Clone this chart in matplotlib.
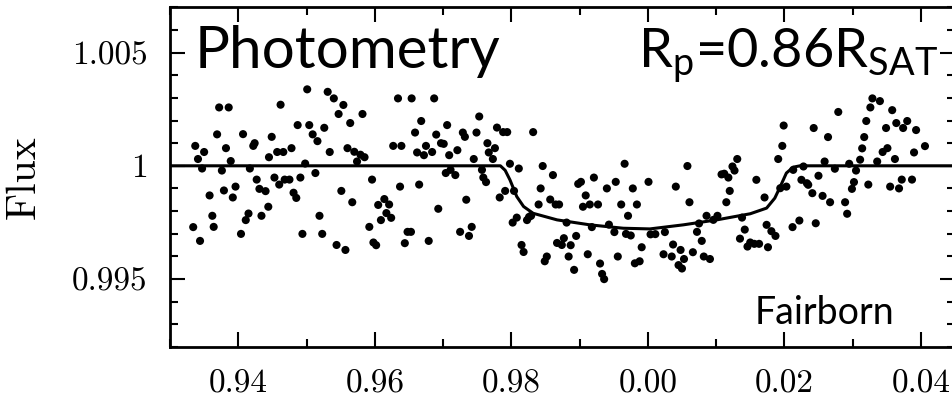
import matplotlib
matplotlib.use("Agg")
import matplotlib.pyplot as plt
from matplotlib.ticker import MultipleLocator

plt.rcParams['font.family'] = ['cmr10', 'DejaVu Serif']
plt.rcParams['axes.formatter.use_mathtext'] = True
plt.rcParams['mathtext.fontset'] = 'custom'
plt.rcParams['mathtext.rm'] = 'Lato'

# measured photometry (orbital phase, continuous across 1.0)
phase_a = [0.9337, 0.9341, 0.9350, 0.9347, 0.9334, 0.9344, 0.9358, 0.9362, 0.9364, 0.9369,
           0.9372, 0.9386, 0.9382, 0.9389, 0.9376, 0.9379, 0.9392, 0.9396, 0.9407, 0.9404,
           0.9411, 0.9415, 0.9417, 0.9422, 0.9424, 0.9427, 0.9431, 0.9440, 0.9434, 0.9444,
           0.9445, 0.9449, 0.9457, 0.9466, 0.9453, 0.9460, 0.9462, 0.9468, 0.9475, 0.9478,
           0.9481, 0.9485, 0.9487, 0.9491, 0.9494, 0.9498, 0.9501, 0.9504, 0.9509, 0.9513,
           0.9516, 0.9519, 0.9523, 0.9526, 0.9531, 0.9534]
flux_a = [1.00088, 1.00030, 1.00061, 0.99988, 0.99729, 0.99668, 0.99869, 0.99779, 0.99730, 1.00139,
          1.00258, 1.00258, 1.00078, 1.00021, 0.99979, 0.99891, 0.99860, 0.99908, 1.00140, 0.99699,
          0.99760, 0.99789, 0.99988, 1.00088, 1.00100, 0.99939, 0.99898, 0.99888, 0.99779, 0.99819,
          1.00038, 1.00128, 1.00061, 1.00061, 0.99948, 0.99917, 1.00270, 0.99939, 0.99939, 1.00078,
          0.99881, 0.99858, 1.00180, 0.99948, 0.99699, 1.00010, 1.00338, 1.00180, 1.00139, 0.99968,
          1.00109, 0.99779, 0.99699, 1.00168, 1.00327, 1.00061]

phase_b = [0.9540, 0.9554, 0.9547, 0.9564, 0.9582, 0.9560, 0.9570, 0.9579, 0.9585, 0.9574,
           0.9596, 0.9551, 0.9567, 0.9544, 0.9557, 0.9592, 0.9598, 0.9602, 0.9605, 0.9614,
           0.9621, 0.9617, 0.9624, 0.9609, 0.9634, 0.9654, 0.9687, 0.9627, 0.9639, 0.9637,
           0.9668, 0.9659, 0.9662, 0.9672, 0.9675, 0.9684, 0.9690, 0.9697, 0.9701, 0.9706,
           0.9709, 0.9721, 0.9729, 0.9732, 0.9665, 0.9704, 0.9711, 0.9718, 0.9693, 0.9648,
           0.9653, 0.9644, 0.9679, 0.9725, 0.9738, 0.9742, 0.9734, 0.9749, 0.9753, 0.9745,
           0.9765, 0.9767, 0.9757, 0.9759, 0.9763]
flux_b = [1.00298, 1.00269, 1.00229, 1.00189, 1.00229, 1.00078, 1.00062, 1.00049, 1.00038, 1.00019,
          0.99939, 0.99889, 0.99839, 0.99650, 0.99628, 0.99730, 0.99661, 0.99649, 0.99827, 0.99853,
          0.99829, 0.99791, 0.99770, 0.99760, 1.00298, 1.00298, 1.00298, 1.00088, 1.00088, 0.99908,
          1.00198, 1.00147, 1.00059, 1.00047, 1.00088, 1.00061, 1.00138, 1.00100, 1.00097, 1.00180,
          1.00047, 1.00069, 1.00147, 1.00128, 0.99917, 0.99968, 0.99982, 0.99959, 0.99810, 0.99708,
          0.99708, 0.99658, 0.99668, 0.99708, 0.99690, 0.99730, 0.99850, 1.00147, 1.00218, 1.00030,
          1.00100, 1.00059, 0.99982, 0.99948, 0.99928]

phase_c = [0.9776, 0.9773, 0.9779, 0.9788, 0.9794, 0.9832, 0.9798, 0.9811, 0.9791, 0.9783,
           0.9804, 0.9808, 0.9802, 0.9823, 0.9826, 0.9829, 0.9815, 0.9818, 0.9846, 0.9861,
           0.9843, 0.9840, 0.9857, 0.9865, 0.9870, 0.9881, 0.9877, 0.9867, 0.9874, 0.9887,
           0.9895, 0.9884, 0.9852, 0.9849, 0.9892, 0.9898, 0.9902, 0.9909, 0.9905, 0.9915,
           0.9927, 0.9921, 0.9918, 0.9912, 0.9930, 0.9933, 0.9936, 0.9940, 0.9943, 0.9951,
           0.9953, 0.9956, 0.9961, 0.9966, 0.9971, 0.9968, 0.9975, 0.9978, 0.9984, 0.9991,
           0.9981, 0.9988, 1.0001, 1.0004]
flux_c = [1.00078, 1.00030, 1.00169, 1.00149, 1.00149, 1.00149, 1.00009, 0.99988, 0.99889, 0.99860,
          0.99889, 0.99771, 0.99749, 0.99760, 0.99774, 0.99779, 0.99650, 0.99619, 0.99999, 0.99959,
          0.99900, 0.99829, 0.99851, 0.99829, 0.99829, 0.99749, 0.99680, 0.99659, 0.99650, 0.99649,
          0.99690, 0.99599, 0.99599, 0.99578, 0.99540, 0.99920, 0.99929, 0.99869, 0.99819, 0.99829,
          0.99829, 0.99948, 0.99729, 0.99609, 0.99568, 0.99522, 0.99499, 0.99900, 0.99740, 0.99707,
          0.99929, 0.99599, 0.99829, 1.00009, 0.99779, 0.99699, 0.99692, 0.99900, 0.99829, 0.99640,
          0.99569, 0.99578, 0.99929, 0.99697]

phase_d = [1.0041, 1.0058, 1.0061, 1.0011, 1.0025, 1.0037, 1.0023, 1.0035, 1.0048, 1.0053,
           1.0045, 1.0050, 1.0066, 1.0072, 1.0075, 1.0079, 1.0082, 1.0091, 1.0086, 1.0096,
           1.0102, 1.0108, 1.0112, 1.0118, 1.0124, 1.0127, 1.0131, 1.0120, 1.0115, 1.0138,
           1.0142, 1.0135, 1.0146, 1.0150, 1.0156, 1.0163, 1.0176, 1.0159, 1.0171, 1.0174,
           1.0181, 1.0187, 1.0191, 1.0197, 1.0199, 1.0194, 1.0203, 1.0213, 1.0222, 1.0212,
           1.0228, 1.0225, 1.0233, 1.0235]
flux_d = [0.99908, 0.99999, 0.99839, 0.99698, 0.99707, 0.99652, 0.99609, 0.99599, 0.99628, 0.99588,
          0.99561, 0.99546, 0.99618, 0.99708, 0.99745, 0.99668, 0.99599, 0.99588, 0.99779, 0.99761,
          0.99779, 0.99962, 0.99965, 0.99948, 0.99997, 0.99979, 1.00030, 0.99889, 0.99839, 0.99771,
          0.99718, 0.99678, 0.99643, 0.99661, 0.99655, 0.99655, 0.99640, 0.99938, 0.99860, 0.99739,
          0.99711, 0.99690, 1.00030, 1.00088, 1.00178, 0.99901, 0.99908, 0.99982, 0.99758, 0.99729,
          0.99997, 0.99938, 0.99923, 0.99916]

phase_e = [1.0243, 1.0264, 1.0279, 1.0241, 1.0246, 1.0250, 1.0256, 1.0259, 1.0267, 1.0274,
           1.0289, 1.0292, 1.0295, 1.0299, 1.0302, 1.0305, 1.0311, 1.0314, 1.0317, 1.0320,
           1.0326, 1.0329, 1.0340, 1.0323, 1.0336, 1.0344, 1.0351, 1.0349, 1.0358, 1.0364,
           1.0374, 1.0380, 1.0393, 1.0362, 1.0355, 1.0368, 1.0372, 1.0387, 1.0390, 1.0406]
flux_e = [1.00167, 1.00127, 1.00238, 0.99879, 0.99746, 0.99956, 0.99867, 1.00019, 0.99839, 0.99987,
          0.99839, 0.99788, 1.00009, 0.99898, 0.99928, 0.99979, 1.00027, 1.00077, 1.00127, 1.00198,
          1.00258, 1.00298, 1.00286, 0.99917, 1.00019, 1.00061, 1.00078, 1.00167, 1.00246, 1.00189,
          1.00167, 1.00198, 1.00158, 1.00030, 0.99908, 0.99900, 0.99939, 0.99939, 1.00059, 1.00087]

# transit model
model_phase = [0.930, 0.9784, 0.9791, 0.9798, 0.9808, 0.9818, 0.9832, 0.9867, 0.9915, 0.9964,
               1.0003, 1.0052, 1.0101, 1.0150, 1.0174, 1.0186, 1.0194, 1.0203, 1.0213, 1.0223, 1.045]
model_flux = [1.0, 1.0, 0.9998, 0.99938, 0.99864, 0.9982, 0.9979, 0.99761, 0.99739, 0.99724,
              0.99721, 0.99739, 0.99761, 0.99788, 0.99813, 0.99857, 0.99908, 0.99968, 0.99994, 1.0, 1.0]

xticks = [0.94, 0.96, 0.98, 1.00, 1.02, 1.04]
xticklabels = ["0.94", "0.96", "0.98", "0.00", "0.02", "0.04"]
yticks = [0.995, 1.0, 1.005]
yticklabels = ["0.995", "1", "1.005"]

phase = phase_a + phase_b + phase_c + phase_d + phase_e
flux = flux_a + flux_b + flux_c + flux_d + flux_e

fig = plt.figure(figsize=(9.53, 3.97), dpi=100)
ax = fig.add_axes([170 / 953, 1 - 347 / 397, 785 / 953, 340 / 397])

ax.scatter(phase, flux, s=34, color="black", edgecolors="none", zorder=3)
ax.plot(model_phase, model_flux, color="black", lw=2.2, zorder=2)

ax.set_xlim(0.930, 1.045)
ax.set_ylim(0.99199, 1.00702)

ax.set_xticks(xticks)
ax.set_xticklabels(xticklabels)
ax.set_yticks(yticks)
ax.set_yticklabels(yticklabels)
ax.xaxis.set_minor_locator(MultipleLocator(0.01))
ax.yaxis.set_minor_locator(MultipleLocator(0.001))
ax.tick_params(which="both", direction="in", top=True, right=True, width=1.5)
ax.tick_params(which="major", length=11, labelsize=24, pad=16)
ax.tick_params(which="minor", length=6)
for sp in ax.spines.values():
    sp.set_linewidth(2)

ax.set_ylabel("Flux", fontsize=30)
ax.yaxis.set_label_coords(-0.162, 0.5)

ax.text(0.032, 0.82, "Photometry", transform=ax.transAxes, fontsize=42,
        family="Lato", ha="left", va="baseline")
ax.text(0.978, 0.82, r"R$_\mathrm{p}$=0.86R$_\mathrm{SAT}$", transform=ax.transAxes,
        fontsize=39, family="Lato", ha="right", va="baseline")
ax.text(0.745, 0.068, "Fairborn", transform=ax.transAxes, fontsize=27,
        family="Lato", ha="left", va="baseline")

fig.savefig("out.png", dpi=100)
